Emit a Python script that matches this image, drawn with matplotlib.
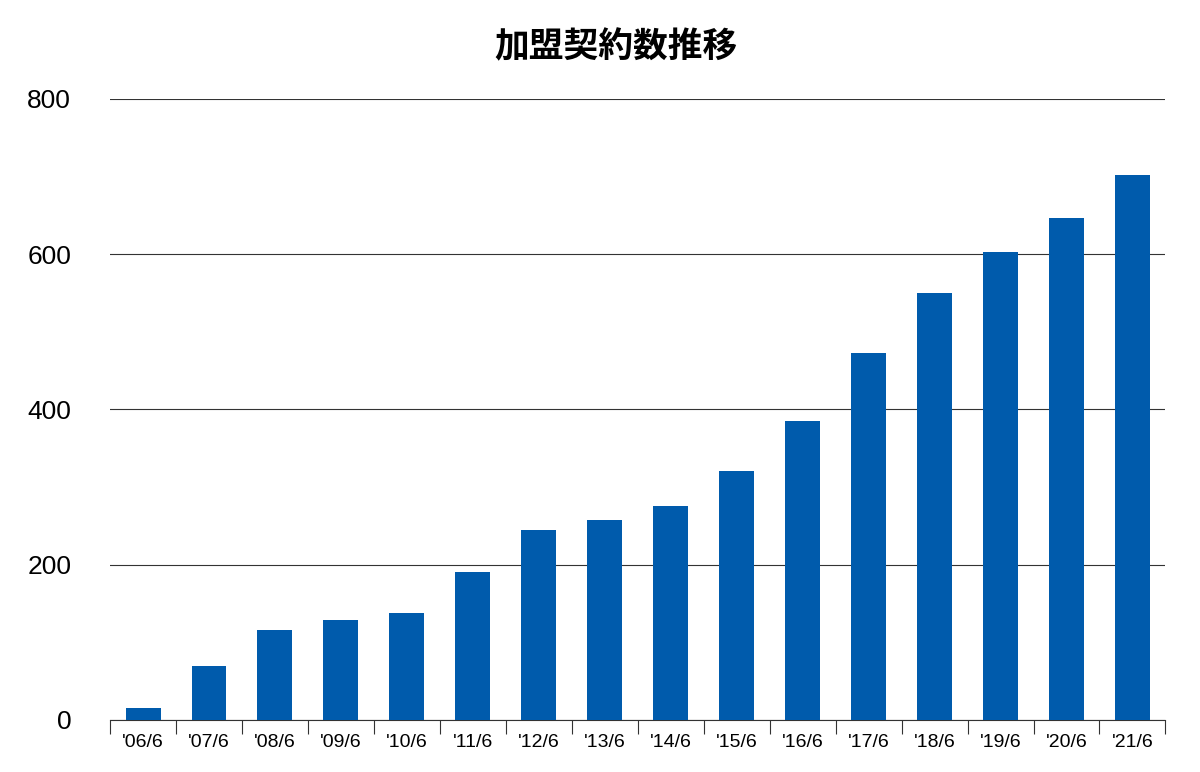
import matplotlib
matplotlib.use("Agg")
import matplotlib.pyplot as plt
import numpy as np

categories = ["'06/6","'07/6","'08/6","'09/6","'10/6","'11/6","'12/6","'13/6","'14/6","'15/6","'16/6","'17/6","'18/6","'19/6","'20/6","'21/6"]
values = [15, 70, 116, 129, 138, 191, 245, 258, 276, 321, 385, 473, 550, 603, 646, 702]
yticks = [0, 200, 400, 600, 800]
title = "加盟契約数推移"

fig = plt.figure(figsize=(12, 7.72), dpi=100)
ax = fig.add_axes([0.0917, 0.0674, 0.8795, 0.8046])
x = np.arange(len(categories))
ax.bar(x, values, width=0.53, color="#005bac", zorder=3)
ax.set_xlim(-0.5, len(categories) - 0.5)
ax.set_ylim(0, 800)
ax.set_yticks(yticks)
ax.set_yticklabels([str(v) for v in yticks], fontsize=19, fontfamily="Liberation Sans")
ax.yaxis.grid(True, color="#333333", linewidth=0.8, zorder=0)
ax.tick_params(axis="y", length=0, pad=28)
for lab in ax.get_yticklabels():
    lab.set_horizontalalignment("right")
ax.set_xticks(x)
ax.set_xticklabels(categories, fontsize=14, fontfamily="Liberation Sans")
ax.tick_params(axis="x", which="major", length=0, pad=10)
ax.set_xticks(np.arange(-0.5, len(categories)), minor=True)
ax.tick_params(axis="x", which="minor", length=10, color="#333333", width=0.8, direction="out")
for s in ["left", "right", "top"]:
    ax.spines[s].set_visible(False)
ax.spines["bottom"].set_color("#333333")
ax.spines["bottom"].set_linewidth(0.8)
fig.text(0.513, 0.94, title, ha="center", va="center", fontsize=25, fontweight="bold", fontfamily="Noto Sans CJK JP")
fig.savefig("out.png", dpi=100)
